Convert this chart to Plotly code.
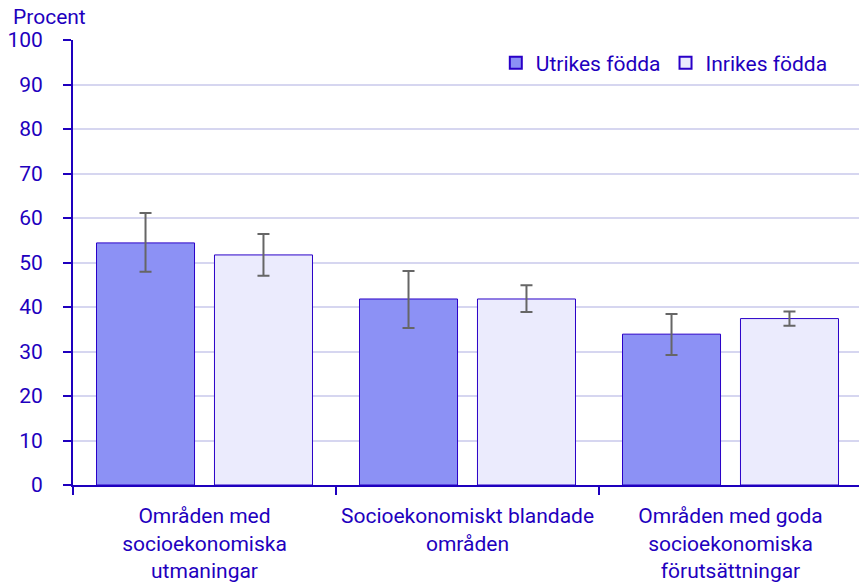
import plotly.graph_objects as go

categories = ["Områden med<br>socioekonomiska<br>utmaningar",
              "Socioekonomiskt blandade<br>områden",
              "Områden med goda<br>socioekonomiska<br>förutsättningar"]
utrikes = [54.4, 41.8, 33.9]
utrikes_hi = [61.1, 48.1, 38.4]
utrikes_lo = [47.9, 35.3, 29.2]
inrikes = [51.7, 41.8, 37.4]
inrikes_hi = [56.4, 44.9, 39.0]
inrikes_lo = [47.0, 38.9, 35.8]

TXT = "#1e00be"
FONT = "Roboto"
FS = 21

def err(vals, hi, lo):
    return dict(type="data", symmetric=False,
                array=[h - v for h, v in zip(hi, vals)],
                arrayminus=[v - l for l, v in zip(lo, vals)],
                color="#666666", thickness=2, width=6)

fig = go.Figure()
fig.add_trace(go.Bar(name="Utrikes födda", x=categories, y=utrikes,
                     marker=dict(color="#8c91f5", line=dict(color="#2a00c8", width=1)),
                     error_y=err(utrikes, utrikes_hi, utrikes_lo)))
fig.add_trace(go.Bar(name="Inrikes födda", x=categories, y=inrikes,
                     marker=dict(color="#ebebfd", line=dict(color="#2a00c8", width=1)),
                     error_y=err(inrikes, inrikes_hi, inrikes_lo)))

# page body has an 8px default margin; compensate so the plot area lands at 73..862 x 40..485
fig.update_layout(
    width=859, height=574,
    margin=dict(l=65, r=5, t=32, b=97, autoexpand=False),
    plot_bgcolor="white", paper_bgcolor="white",
    barmode="group", bargap=0.103, bargroupgap=0.169,
    font=dict(family=FONT, size=FS, color=TXT),
    legend=dict(orientation="h", x=0.963, xanchor="right", y=0.948, yanchor="middle",
                font=dict(size=FS, color=TXT), itemsizing="constant",
                bgcolor="rgba(0,0,0,0)", traceorder="normal", itemwidth=30,
                tracegroupgap=0),
    showlegend=True,
    annotations=[dict(text="Procent", xref="paper", yref="paper", x=0, y=1,
                      xshift=-62, yshift=9, xanchor="left", yanchor="bottom",
                      showarrow=False, font=dict(size=FS, color=TXT))],
    shapes=[dict(type="line", xref="paper", yref="paper", x0=1, x1=1, y0=0, y1=1,
                 line=dict(color="#d6d6f0", width=2))],
)
fig.update_xaxes(showline=True, linecolor=TXT, linewidth=2, ticks="outside",
                 tickson="boundaries", ticklen=8, tickcolor=TXT, tickwidth=2,
                 tickfont=dict(size=FS, color=TXT), showgrid=False, automargin=False,
                 tickangle=0, ticklabelstandoff=11)
fig.update_yaxes(range=[0, 100], dtick=10, showline=True, linecolor=TXT, linewidth=2,
                 ticks="outside", ticklen=8, tickcolor=TXT, tickwidth=2,
                 tickfont=dict(size=FS, color=TXT), gridcolor="#d6d6f0", gridwidth=2,
                 zeroline=False, automargin=False, ticklabelstandoff=16)

fig.write_html("out.html")
